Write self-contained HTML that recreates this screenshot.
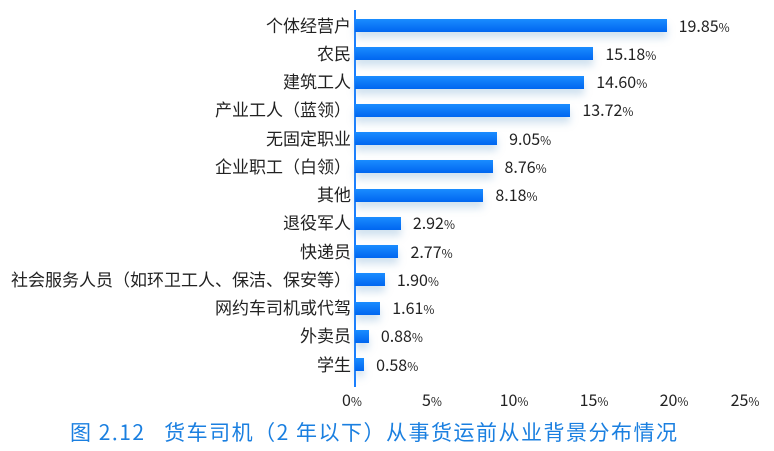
<!DOCTYPE html>
<html><head><meta charset="utf-8"><style>
body{margin:0;width:774px;height:451px;background:#fff;position:relative;overflow:hidden;font-family:"Noto Sans CJK SC","Liberation Sans",sans-serif;color:#222}
.lab{position:absolute;right:423px;font-size:17px;white-space:nowrap;line-height:22px}
.bar{position:absolute;left:355px;height:13px;background:linear-gradient(#1a8cff,#0066f0);box-shadow:0 6px 8px rgba(120,170,210,0.35)}
.val{position:absolute;font-size:16px;line-height:20px;white-space:nowrap}
.val small,.tk small{font-size:12px}
.tk{position:absolute;top:387px;font-size:16px;transform:translateX(-50%);white-space:nowrap}
</style></head><body>
<div style="position:absolute;left:354px;top:10px;width:2px;height:377px;background:#1a7fff"></div>
<div id="c"></div>
<script>
var d=[["个体经营户",19.85],["农民",15.18],["建筑工人",14.60],["产业工人（蓝领）",13.72],["无固定职业",9.05],["企业职工（白领）",8.76],["其他",8.18],["退役军人",2.92],["快递员",2.77],["社会服务人员（如环卫工人、保洁、保安等）",1.90],["网约车司机或代驾",1.61],["外卖员",0.88],["学生",0.58]];
var h="";
d.forEach(function(r,i){var cy=25.5+i*28.25;var w=r[1]*15.7;
h+='<div class="lab" style="top:'+(cy-12)+'px">'+r[0]+'</div>';
h+='<div class="bar" style="top:'+(cy-6.5)+'px;width:'+w+'px"></div>';
h+='<div class="val" style="top:'+(cy-11)+'px;left:'+(355+w+12)+'px">'+r[1].toFixed(2)+'<small>%</small></div>';});
[0,5,10,15,20,25].forEach(function(t,i){var x=[352,432,514,594,674,745][i];h+='<div class="tk" style="left:'+x+'px">'+t+'<small>%</small></div>';});
document.getElementById("c").innerHTML=h;
</script>
<div style="position:absolute;left:70px;top:418px;font-size:21px;letter-spacing:1.5px;color:#1a7fe0;white-space:nowrap;line-height:28px">图 2.12&nbsp;&nbsp;&nbsp;货车司机（2 年以下）从事货运前从业背景分布情况</div>
</body></html>
